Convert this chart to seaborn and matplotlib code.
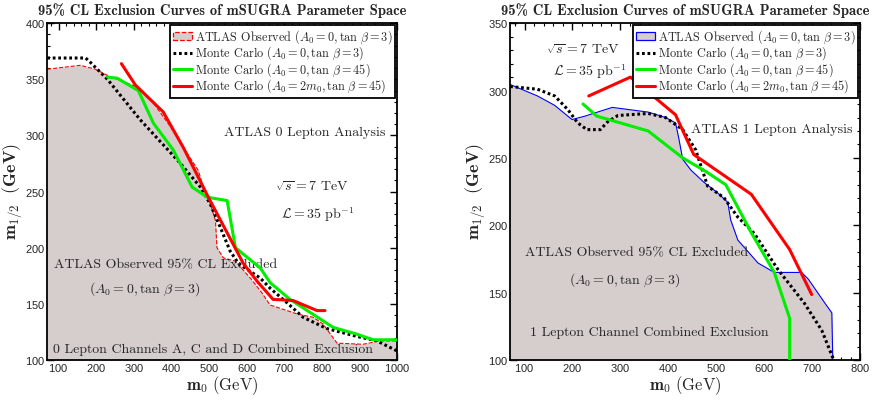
import matplotlib
matplotlib.use("Agg")
import matplotlib.pyplot as plt
import seaborn as sns
from matplotlib.patches import Patch
from matplotlib.lines import Line2D
from matplotlib.ticker import MultipleLocator

# ---- 0 lepton panel data (m0, m1/2 in GeV) ----
obs0_m0 = [70, 158, 198, 230, 310, 352, 397, 432, 471, 485, 498, 517, 521, 538, 570,
           612, 640, 662, 734, 777, 803, 840, 909, 954, 1000]
obs0_m12 = [359, 362.5, 359, 353.5, 343, 329, 308, 289, 269, 254, 245, 224, 200, 191, 188,
            172, 160, 149, 141, 138, 132, 115, 114, 117, 117]

mc0_m0 = [70, 172, 185, 230, 317, 405, 424, 477, 503, 530, 556, 578, 636, 662, 707,
          750, 813, 893, 946, 1000]
mc0_m12 = [369, 369, 365, 350, 314, 282, 275, 254, 239, 218, 197, 186, 173, 164, 151,
           138, 128, 121, 117, 108]

tb45_0_m0 = [230, 256, 312, 352, 405, 455, 495, 548, 570, 636, 662, 715, 830, 893, 936, 1000]
tb45_0_m12 = [352, 351, 340, 311, 287, 254, 245, 242, 200, 182, 169, 154, 129, 123, 118, 118]

a2m_0_m0 = [267, 304, 378, 432, 498, 591, 628, 670, 723, 787, 808]
a2m_0_m12 = [364, 345, 321, 289, 245, 186, 170, 154, 153, 144, 144]

# ---- 1 lepton panel data ----
obs1_m0 = [70, 127, 163, 199, 226, 283, 358, 394, 415, 421, 430, 447, 474, 503, 524,
           530, 545, 587, 621, 678, 692, 726, 741, 743]
obs1_m12 = [304.5, 296, 289, 278.5, 281, 287.5, 284, 280, 276, 266, 249, 241, 232, 224, 217,
            204, 189, 172, 165, 165, 160, 142.5, 135, 100]

mc1_m0 = [70, 127, 163, 190, 211, 230, 258, 274, 295, 358, 394, 430, 457, 482, 516,
          545, 579, 629, 684, 720, 745]
mc1_m12 = [303, 301, 296, 286, 276, 271, 271, 277, 281.5, 283, 280, 271, 256, 229, 220.5,
           206, 194, 167, 142, 122, 100]

tb45_1_m0 = [222, 251, 358, 430, 478, 520, 573, 621, 653, 653]
tb45_1_m12 = [290, 281, 270, 250, 240, 230, 194.5, 165, 131, 100]

a2m_1_m0 = [234, 321, 415, 453, 573, 653, 699]
a2m_1_m12 = [296, 310, 282, 252.5, 223, 182, 148.6]

labels = [r'ATLAS Observed $(A_0 = 0, \tan\,\beta = 3)$',
          r'Monte Carlo $(A_0 = 0, \tan\,\beta = 3)$',
          r'Monte Carlo $(A_0 = 0, \tan\,\beta = 45)$',
          r'Monte Carlo $(A_0 = 2m_0, \tan\,\beta = 45)$']

sns.set_style("ticks")
plt.rcParams['font.family'] = 'serif'
plt.rcParams['font.serif'] = ['cmr10', 'DejaVu Serif']
plt.rcParams['mathtext.fontset'] = 'cm'
plt.rcParams['axes.formatter.use_mathtext'] = True

GREY = '#d6cdcd'
GREEN = '#00ee00'
RED = '#ff0000'
TFS = 10


def draw_panel(ax, obs_x, obs_y, obs_color, obs_ls, mc, tb45, a2m, xmax, ymax, xticks):
    ax.fill_between(obs_x, obs_y, 100, color=GREY, lw=0, zorder=1)
    sns.lineplot(x=obs_x, y=obs_y, sort=False, estimator=None, ax=ax, color=obs_color,
                 lw=0.8, linestyle=obs_ls, zorder=2)
    sns.lineplot(x=mc[0], y=mc[1], sort=False, estimator=None, ax=ax, color='black',
                 lw=2.2, linestyle=(0, (0.9, 0.9)), zorder=3)
    sns.lineplot(x=tb45[0], y=tb45[1], sort=False, estimator=None, ax=ax, color=GREEN,
                 lw=2.2, zorder=4)
    sns.lineplot(x=a2m[0], y=a2m[1], sort=False, estimator=None, ax=ax, color=RED,
                 lw=2.2, zorder=5)

    ax.set_xlim(70, xmax)
    ax.set_ylim(100, ymax)
    ax.set_xticks(xticks)
    ax.xaxis.set_minor_locator(MultipleLocator(20))
    ax.yaxis.set_major_locator(MultipleLocator(50))
    ax.yaxis.set_minor_locator(MultipleLocator(10))
    ax.tick_params(which='both', direction='in', top=True, right=True, color='black')
    ax.tick_params(which='major', length=5, width=1, pad=1.5)
    ax.tick_params(which='minor', length=2.5, width=0.8)
    for lab in ax.get_xticklabels() + ax.get_yticklabels():
        lab.set_fontfamily('Liberation Sans')
        lab.set_fontsize(8)
    for sp in ax.spines.values():
        sp.set_visible(True)
        sp.set_linewidth(1.3)
        sp.set_color('black')

    ax.set_xlabel(r'$\mathbf{m_0}\ \mathrm{(GeV)}$', fontsize=12, labelpad=0)
    ax.set_ylabel(r'$\mathbf{m_{1/2}}\ \ \mathbf{(GeV)}$', fontsize=13, labelpad=1)
    ax.set_title('95% CL Exclusion Curves of mSUGRA Parameter Space',
                 family='cmb10', fontsize=10.5, pad=6)

    handles = [Patch(facecolor=GREY, edgecolor=obs_color, linestyle=obs_ls, lw=0.9),
               Line2D([], [], color='black', lw=2.2, linestyle=(0, (0.9, 0.9))),
               Line2D([], [], color=GREEN, lw=2.2),
               Line2D([], [], color=RED, lw=2.2)]
    leg = ax.legend(handles, labels, loc='upper right', fontsize=8.8, frameon=True,
                    fancybox=False, framealpha=1, edgecolor='black', borderaxespad=0.15,
                    handlelength=1.6, handletextpad=0.2, labelspacing=-0.1,
                    borderpad=0.25)
    leg.get_frame().set_linewidth(1.3)
    leg.set_zorder(10)


fig = plt.figure(figsize=(8.75, 4), dpi=100)
ax0 = fig.add_axes([0.054, 0.1, 0.4, 0.842])
ax1 = fig.add_axes([0.583, 0.1, 0.4, 0.842])

draw_panel(ax0, obs0_m0, obs0_m12, RED, '--', (mc0_m0, mc0_m12), (tb45_0_m0, tb45_0_m12),
           (a2m_0_m0, a2m_0_m12), 1000, 400, range(100, 1001, 100))
draw_panel(ax1, obs1_m0, obs1_m12, '#0000ff', '-', (mc1_m0, mc1_m12), (tb45_1_m0, tb45_1_m12),
           (a2m_1_m0, a2m_1_m12), 800, 350, range(100, 801, 100))

# annotations, 0 lepton
ax0.text(755, 302, 'ATLAS 0 Lepton Analysis', ha='center', va='center', fontsize=TFS)
ax0.text(774, 254, r'$\sqrt{s} = 7$ TeV', ha='center', va='center', fontsize=TFS)
ax0.text(790, 229, r'$\mathcal{L} = 35$ pb$^{-1}$', ha='center', va='center', fontsize=TFS)
ax0.text(384, 184, 'ATLAS Observed 95% CL Excluded', ha='center', va='center', fontsize=TFS)
ax0.text(328, 163, r'$(A_0 = 0, \tan\,\beta = 3)$', ha='center', va='center', fontsize=TFS)
ax0.text(511, 109, '0 Lepton Channels A, C and D Combined Exclusion', ha='center',
         va='center', fontsize=TFS)

# annotations, 1 lepton
ax1.text(222, 330, r'$\sqrt{s} = 7$ TeV', ha='center', va='center', fontsize=TFS)
ax1.text(237, 314, r'$\mathcal{L} = 35$ pb$^{-1}$', ha='center', va='center', fontsize=TFS)
ax1.text(615, 271, 'ATLAS 1 Lepton Analysis', ha='center', va='center', fontsize=TFS)
ax1.text(333, 179, 'ATLAS Observed 95% CL Excluded', ha='center', va='center', fontsize=TFS)
ax1.text(308, 159.5, r'$(A_0 = 0, \tan\,\beta = 3)$', ha='center', va='center', fontsize=TFS)
ax1.text(360, 120, '1 Lepton Channel Combined Exclusion', ha='center', va='center',
         fontsize=TFS)

fig.savefig('out.png', dpi=100)
